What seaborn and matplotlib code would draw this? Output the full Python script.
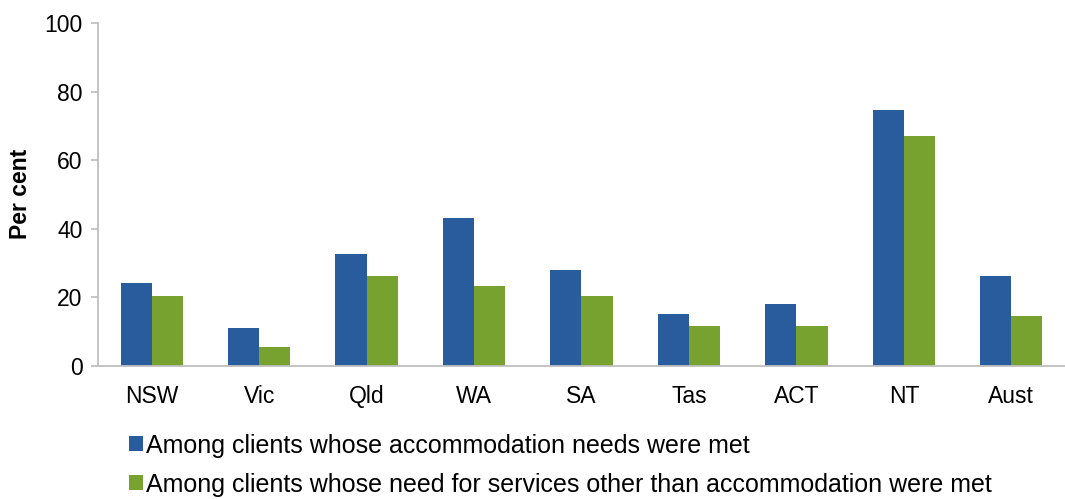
import numpy as np
import pandas as pd
import matplotlib
matplotlib.use("Agg")
import matplotlib.pyplot as plt
import seaborn as sns

# 데이터
states = ["NSW", "Vic", "Qld", "WA", "SA", "Tas", "ACT", "NT", "Aust"]
accom_met = [24.0, 11.1, 32.7, 43.1, 28.0, 15.2, 18.1, 74.6, 26.3]
other_met = [20.4, 5.4, 26.3, 23.4, 20.4, 11.7, 11.7, 67.0, 14.6]
series_names = [
    "Among clients whose accommodation needs were met",
    "Among clients whose need for services other than accommodation were met",
]
colors = ["#285C9C", "#78A22F"]

df = pd.DataFrame({
    "state": states * 2,
    "value": accom_met + other_met,
    "series": [series_names[0]] * len(states) + [series_names[1]] * len(states),
})

sns.set_theme(style="white")
plt.rcParams["font.family"] = ["Liberation Sans", "DejaVu Sans"]
plt.rcParams["text.color"] = "black"
plt.rcParams["axes.labelcolor"] = "black"

fig = plt.figure(figsize=(10.65, 4.99), dpi=100)
ax = fig.add_axes([0.092, 0.267, 0.908, 0.687])

sns.barplot(data=df, x="state", y="value", hue="series", order=states,
            hue_order=series_names, palette=colors, width=0.58, gap=0,
            saturation=1, linewidth=0, ax=ax, legend=True)

ax.set_ylim(0, 100)
ax.set_yticks(range(0, 101, 20))
ax.set_xlim(-0.5, len(states) - 0.5)
ax.set_xlabel("")
ax.set_ylabel("Per cent", fontsize=16.5, fontweight="bold", labelpad=9)
ax.tick_params(axis="y", labelsize=16.5, length=5, color="#BFBFBF", left=True, pad=6,
               labelcolor="black")
ax.tick_params(axis="x", labelsize=16.5, length=0, pad=14, labelcolor="black")

for s in ["top", "right"]:
    ax.spines[s].set_visible(False)
for s in ["left", "bottom"]:
    ax.spines[s].set_color("#BFBFBF")
    ax.spines[s].set_linewidth(1.3)

# 범례: 차트 아래 두 줄
handles, labels = ax.get_legend_handles_labels()
ax.get_legend().remove()
fig.legend(handles, labels, loc="upper left", bbox_to_anchor=(0.121, 0.131),
           frameon=False, fontsize=18, handlelength=0.55, handleheight=0.55,
           handletextpad=0.15, labelspacing=0.6, borderaxespad=0, borderpad=0)

fig.savefig("out.png", dpi=100, facecolor="white")
